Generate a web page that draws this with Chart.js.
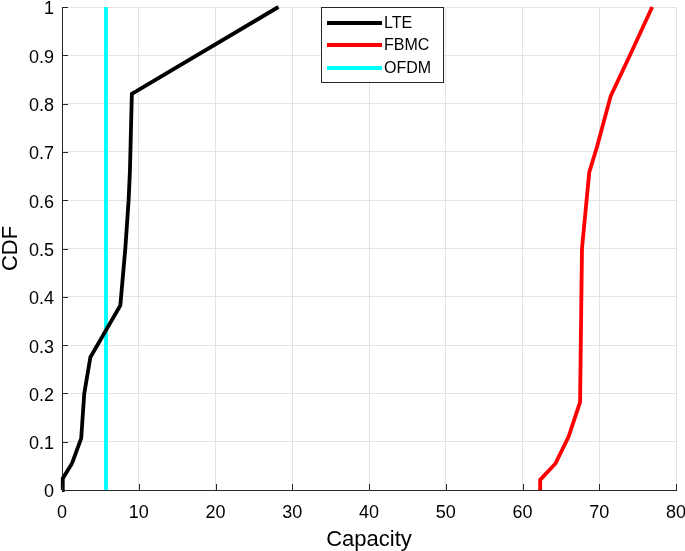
<!DOCTYPE html>
<html>
<head>
<meta charset="utf-8">
<script src="https://cdn.jsdelivr.net/npm/chart.js@4"></script>
<style>
  html, body { margin: 0; padding: 0; background: #fff; }
  #wrap { width: 685px; height: 551px; position: relative; }
</style>
</head>
<body>
<div id="wrap"><canvas id="cdfChart"></canvas></div>
<script>
// CDF curves
const lteX = [0, 0.1, 1.3, 2.5, 2.9, 3.7, 7.6, 8.25, 8.68, 8.85, 9.1, 28.2];
const lteY = [0, 0.024, 0.055, 0.107, 0.2, 0.275, 0.382, 0.5, 0.6, 0.66, 0.82, 1];
const fbmcX = [62.3, 62.3, 64.3, 66.0, 67.5, 67.75, 68.7, 69.7, 71.5, 74.0, 76.9];
const fbmcY = [0, 0.021, 0.055, 0.11, 0.182, 0.5, 0.658, 0.71, 0.816, 0.9, 1];
const ofdmX = [5.73, 5.73];
const ofdmY = [0, 1];

const seriesNames = ["LTE", "FBMC", "OFDM"];
const seriesColors = ["#000000", "#ff0000", "#00ffff"];

const toPoints = (xs, ys) => xs.map((x, i) => ({ x: x, y: ys[i] }));

const fontFamily = "'Liberation Sans', Arial, sans-serif";

// inward ticks on left/bottom axis + legend box, matlab style
const framePlugin = {
  id: "frame",
  afterDraw(chart) {
    const { ctx, chartArea: a, scales } = chart;
    ctx.save();
    ctx.strokeStyle = "#262626";
    ctx.lineWidth = 1;
    ctx.beginPath();
    scales.x.ticks.forEach(t => {
      const px = Math.round(scales.x.getPixelForValue(t.value)) + 0.5;
      ctx.moveTo(px, a.bottom); ctx.lineTo(px, a.bottom - 6);
    });
    scales.y.ticks.forEach(t => {
      const py = Math.round(scales.y.getPixelForValue(t.value)) + 0.5;
      ctx.moveTo(a.left, py); ctx.lineTo(a.left + 6, py);
    });
    ctx.stroke();

    // legend box
    const bx = 321, by = 7, bw = 122, bh = 75;
    ctx.fillStyle = "#fff";
    ctx.fillRect(bx, by, bw, bh);
    ctx.strokeStyle = "#262626";
    ctx.strokeRect(bx + 0.5, by + 0.5, bw, bh);
    const rows = [23, 45, 68];
    ctx.font = "16px " + fontFamily;
    ctx.textBaseline = "middle";
    seriesNames.forEach((name, i) => {
      ctx.strokeStyle = seriesColors[i];
      ctx.lineWidth = 4;
      ctx.beginPath();
      ctx.moveTo(327, rows[i]);
      ctx.lineTo(382, rows[i]);
      ctx.stroke();
      ctx.fillStyle = "#000";
      ctx.fillText(name, 384, rows[i] + 1);
    });
    ctx.restore();
  }
};

const datasets = [
  { label: seriesNames[0], data: toPoints(lteX, lteY) },
  { label: seriesNames[1], data: toPoints(fbmcX, fbmcY) },
  { label: seriesNames[2], data: toPoints(ofdmX, ofdmY) }
].map((d, i) => Object.assign(d, {
  borderColor: seriesColors[i],
  backgroundColor: seriesColors[i],
  borderWidth: 3.8,
  showLine: true,
  pointRadius: 0,
  tension: 0,
  clip: false
}));

new Chart(document.getElementById("cdfChart"), {
  type: "scatter",
  data: { datasets: datasets },
  options: {
    responsive: true,
    maintainAspectRatio: false,
    animation: false,
    layout: { padding: { left: 0, right: 9, top: 7, bottom: 0 } },
    plugins: { legend: { display: false }, tooltip: { enabled: false } },
    scales: {
      x: {
        type: "linear",
        min: 0,
        max: 80,
        afterFit: s => { s.height = 61; s.paddingLeft = 0; s.paddingRight = 0; },
        ticks: { stepSize: 10, color: "#000", padding: 12, font: { family: fontFamily, size: 18 } },
        grid: { color: "#e3e3e3", drawTicks: false },
        border: { display: true, color: "#262626" },
        title: {
          display: true,
          text: "Capacity",
          color: "#000",
          font: { family: fontFamily, size: 22, lineHeight: 1 },
          padding: { top: 0, bottom: 0.5 }
        }
      },
      y: {
        type: "linear",
        min: 0,
        max: 1,
        afterFit: s => { s.width = 62; s.paddingTop = 0; s.paddingBottom = 0; },
        ticks: {
          stepSize: 0.1,
          color: "#000",
          padding: 8,
          labelOffset: 2.5,
          font: { family: fontFamily, size: 18 },
          callback: v => String(+v.toFixed(1))
        },
        grid: { color: "#e3e3e3", drawTicks: false },
        border: { display: true, color: "#262626" },
        title: {
          display: true,
          text: "CDF",
          color: "#000",
          font: { family: fontFamily, size: 22, lineHeight: 1 },
          padding: { top: 0, bottom: 0 }
        }
      }
    }
  },
  plugins: [framePlugin]
});
</script>
</body>
</html>
